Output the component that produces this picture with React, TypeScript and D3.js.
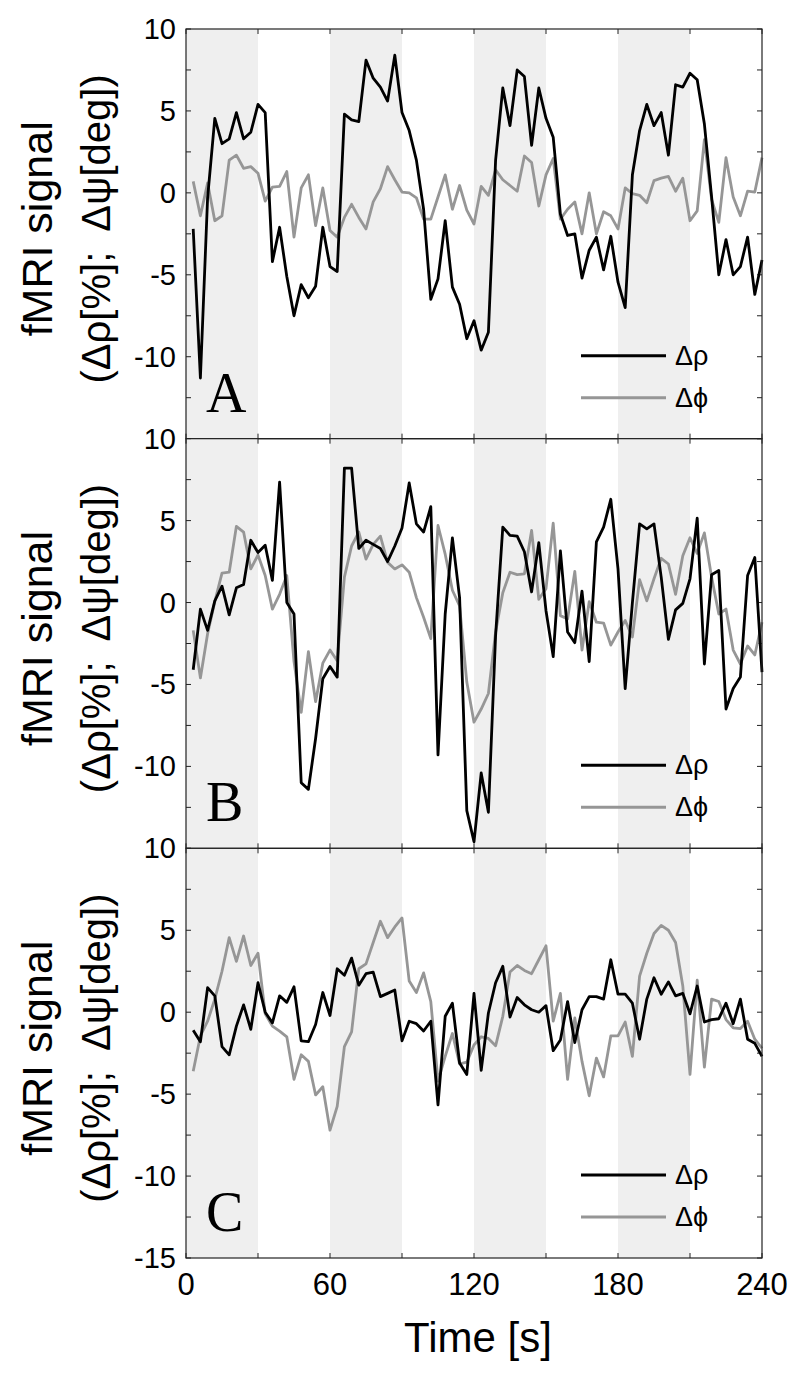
import * as d3 from 'd3'

const W = 800
const H = 1380
const X0 = 186
const X1 = 762
const TOP = 29
const BOTTOM = 1258
const PH = (BOTTOM - TOP) / 3

// sampling: one volume every 3 s, first at 3 s
const TIMES = d3.range(3, 243, 3)

// stimulus "on" blocks (shaded)
const BLOCKS = [
  [0, 30],
  [60, 90],
  [120, 150],
  [180, 210],
]

const A_RHO = [
  -2.2, -11.3, -0.3, 4.55, 3.0, 3.3, 4.9, 3.3, 3.7, 5.4,
  4.9, -4.2, -2.1, -5.1, -7.5, -5.6, -6.4, -5.7, -2.1, -4.5,
  -4.8, 4.8, 4.45, 4.35, 8.1, 7.0, 6.45, 5.6, 8.4, 4.9,
  3.8, 2.0, -1.0, -6.5, -5.25, -1.7, -5.75, -6.8, -8.9, -7.8,
  -9.6, -8.5, 2.0, 6.4, 4.1, 7.5, 7.1, 2.9, 6.4, 4.55,
  3.4, -1.3, -2.6, -2.5, -5.2, -3.5, -2.7, -4.7, -2.65, -5.45,
  -7.0, 1.1, 3.8, 5.4, 4.1, 4.9, 2.3, 6.6, 6.45, 7.3,
  6.9, 4.2, -0.25, -5.0, -2.85, -5.0, -4.5, -2.7, -6.2, -4.1,
]
const A_PHI = [
  0.7, -1.4, 0.6, -1.7, -1.4, 2.0, 2.3, 1.5, 1.6, 1.2,
  -0.5, 0.35, 0.4, 1.3, -2.7, 0.3, 1.1, -2.0, 0.3, -2.3,
  -2.7, -1.5, -0.7, -1.5, -2.2, -0.55, 0.25, 1.6, 0.8, 0.05,
  0.0, -0.3, -1.6, -1.6, -0.25, 1.1, -1.0, 0.45, -1.05, -1.9,
  0.4, -0.15, 1.4, 0.8, 0.45, 0.1, 2.25, 1.85, -0.8, 1.1,
  2.1, -1.6, -1.0, -0.55, -2.5, 0.0, -2.5, -1.15, -1.4, -2.2,
  0.3, -0.05, -0.15, -0.6, 0.75, 0.9, 1.0, 0.1, 0.9, -1.7,
  -1.1, 3.25, -0.4, -1.8, 2.15, -0.25, -1.4, 0.1, 0.05, 2.15,
]
const B_RHO = [
  -4.1, -0.4, -1.7, 0.1, 1.0, -0.75, 0.9, 1.1, 3.8, 3.05,
  3.5, 1.35, 7.35, 0.0, -0.7, -11.0, -11.4, -8.3, -4.65, -3.9,
  -4.55, 8.2, 8.2, 3.3, 3.8, 3.55, 3.3, 2.5, 3.45, 4.55,
  7.3, 4.8, 4.3, 5.85, -9.3, -0.7, 3.95, 0.3, -12.7, -14.6,
  -10.4, -12.8, -2.0, 4.6, 4.1, 4.05, 3.1, 0.65, 3.65, -0.5,
  -3.3, 3.15, -1.8, -2.45, 0.7, -3.6, 3.7, 4.6, 6.3, 2.05,
  -5.25, 0.0, 4.8, 4.5, 4.8, 1.55, -2.25, -0.45, -0.05, 1.45,
  5.15, -3.75, 1.7, 1.95, -6.5, -5.25, -4.55, 1.65, 2.75, -4.25,
]
const B_PHI = [
  -1.7, -4.6, -1.9, 0.05, 1.8, 1.85, 4.65, 4.3, 2.05, 2.9,
  1.65, -0.4, 0.5, 1.65, -3.6, -6.7, -3.0, -6.05, -3.7, -2.9,
  -3.55, 1.55, 3.45, 4.3, 2.65, 3.55, 4.05, 2.45, 2.05, 2.3,
  1.85, 0.3, -0.9, -2.2, 4.7, 2.95, 0.75, -0.2, -4.85, -7.3,
  -6.5, -5.55, -1.8, 0.6, 1.85, 1.7, 1.75, 4.4, 0.2, 0.85,
  4.85, -0.8, -1.0, 1.9, -2.9, 0.05, -1.2, -1.25, -2.6, -1.8,
  -1.1, -2.1, 1.4, 0.1, 1.45, 2.7, 2.35, 0.5, 2.85, 3.95,
  3.0, 4.25, 1.55, -0.7, -0.4, -2.9, -3.75, -2.65, -3.2, -1.2,
]
const C_RHO = [
  -1.1, -1.8, 1.5, 1.0, -2.1, -2.6, -0.85, 0.45, -1.05, 1.8,
  0.0, -0.65, 1.0, 0.6, 1.55, -1.75, -1.8, -0.75, 1.2, -0.2,
  2.65, 2.25, 3.3, 1.65, 2.35, 2.45, 0.95, 1.15, 1.35, -1.75,
  -0.55, -0.7, -1.15, -0.55, -5.65, -0.25, 0.55, -3.1, -3.8, 1.15,
  -3.55, -0.05, 1.8, 2.8, -0.3, 0.9, 0.45, 0.15, 0.0, 0.4,
  -2.35, -1.7, 0.65, -1.85, 0.15, 0.95, 0.95, 0.8, 3.2, 1.1,
  1.1, 0.55, -1.65, 0.8, 2.1, 1.1, 1.85, 1.0, 1.15, -0.1,
  1.6, -0.6, -0.45, -0.4, 0.55, -0.7, 0.8, -1.65, -1.9, -2.7,
]
const C_PHI = [
  -3.6, -1.45, -0.55, 0.8, 2.5, 4.55, 3.1, 4.65, 2.85, 3.6,
  -0.1, -0.85, -1.15, -1.5, -4.1, -2.6, -3.0, -5.05, -4.55, -7.2,
  -5.75, -2.1, -1.2, 2.65, 2.95, 4.25, 5.55, 4.55, 5.2, 5.75,
  1.9, 1.2, 2.4, 0.65, -4.2, -2.7, -1.3, -3.15, -3.05, -2.0,
  -1.5, -1.6, -2.05, -0.25, 2.45, 2.85, 2.55, 2.35, 3.2, 4.05,
  -0.55, 1.15, -4.1, -0.35, -3.0, -5.1, -2.8, -3.95, -1.45, -1.45,
  -0.6, -2.7, 2.2, 3.6, 4.8, 5.3, 5.0, 4.25, 1.6, -3.8,
  1.95, -3.35, 0.8, 0.65, -0.45, -0.95, -1.0, -0.55, -1.65, -2.2,
]

const PANELS = [
  { letter: 'A', rho: A_RHO, phi: A_PHI },
  { letter: 'B', rho: B_RHO, phi: B_PHI },
  { letter: 'C', rho: C_RHO, phi: C_PHI },
]

const Y_DOMAIN = [-15, 10]
const Y_LABELS = [10, 5, 0, -5, -10]
const X_LABELS = [0, 60, 120, 180, 240]
const LEGEND = [
  { label: 'Δρ', color: '#000' },
  { label: 'Δϕ', color: '#969696' },
]

const SANS = 'Arial, "Liberation Sans", Helvetica, sans-serif'
const SERIF = '"Times New Roman", "Liberation Serif", Times, serif'

function Panel({ i, letter, rho, phi }) {
  const top = TOP + i * PH
  const bot = top + PH
  const x = d3.scaleLinear().domain([0, 240]).range([X0, X1])
  const y = d3.scaleLinear().domain(Y_DOMAIN).range([bot, top])
  const line = d3
    .line<number>()
    .x((_, j) => x(TIMES[j]))
    .y((d) => y(d))
  const cy = (top + bot) / 2 - 5

  return (
    <g>
      {/* stimulus blocks */}
      {BLOCKS.map(([a, b]) => (
        <rect key={a} x={x(a)} y={top} width={x(b) - x(a)} height={PH} fill="#efefef" />
      ))}

      {/* ticks, inward on all four sides */}
      {d3.range(0, 241, 30).map((t) => (
        <g key={`xt${t}`} stroke="#222" strokeWidth={1}>
          <line x1={x(t)} x2={x(t)} y1={bot} y2={bot - 5} />
          <line x1={x(t)} x2={x(t)} y1={top} y2={top + 5} />
        </g>
      ))}
      {d3.range(-15, 10.1, 2.5).map((v) => (
        <g key={`yt${v}`} stroke="#222" strokeWidth={1}>
          <line x1={X0} x2={X0 + 5} y1={y(v)} y2={y(v)} />
          <line x1={X1} x2={X1 - 5} y1={y(v)} y2={y(v)} />
        </g>
      ))}

      <path d={line(phi)} fill="none" stroke="#969696" strokeWidth={2.8} strokeLinejoin="round" />
      <path d={line(rho)} fill="none" stroke="#000" strokeWidth={2.8} strokeLinejoin="round" />

      <rect x={X0} y={top} width={X1 - X0} height={PH} fill="none" stroke="#222" strokeWidth={1.2} />

      {/* y tick labels */}
      {(i === 2 ? [...Y_LABELS, -15] : Y_LABELS).map((v) => (
        <text key={`yl${v}`} x={176} y={y(v)} textAnchor="end" dominantBaseline="central"
          fontFamily={SANS} fontSize={29}>
          {v}
        </text>
      ))}

      {/* panel letter */}
      <text x={206} y={bot - 27} fontFamily={SERIF} fontSize={56}>{letter}</text>

      {/* legend */}
      {LEGEND.map((l, k) => {
        const ly = bot - 83 + k * 42
        return (
          <g key={l.label}>
            <line x1={581} x2={666} y1={ly} y2={ly} stroke={l.color} strokeWidth={3} />
            <text x={675} y={ly + 9} fontFamily={SANS} fontSize={27}>{l.label}</text>
          </g>
        )
      })}

      {/* y axis title */}
      <g transform={`translate(52,${cy}) rotate(-90)`}>
        <text textAnchor="middle" fontFamily={SANS} fontSize={43}>fMRI signal</text>
      </g>
      <g transform={`translate(110,${cy}) rotate(-90)`}>
        <text textAnchor="middle" fontFamily={SANS} fontSize={40} style={{ whiteSpace: 'pre' }}>
          {'(Δρ[%];  Δψ[deg])'}
        </text>
      </g>
    </g>
  )
}

export default function App() {
  const x = d3.scaleLinear().domain([0, 240]).range([X0, X1])
  return (
    <svg width={W} height={H} viewBox={`0 0 ${W} ${H}`}
      style={{ position: 'absolute', left: 0, top: 0, background: '#fff' }}>
      <rect width={W} height={H} fill="#fff" />
      {PANELS.map((p, i) => (
        <Panel key={p.letter} i={i} {...p} />
      ))}
      {X_LABELS.map((t) => (
        <text key={t} x={x(t)} y={1295} textAnchor="middle" fontFamily={SANS} fontSize={31}>
          {t}
        </text>
      ))}
      <text x={478} y={1352} textAnchor="middle" fontFamily={SANS} fontSize={42}>Time [s]</text>
    </svg>
  )
}
